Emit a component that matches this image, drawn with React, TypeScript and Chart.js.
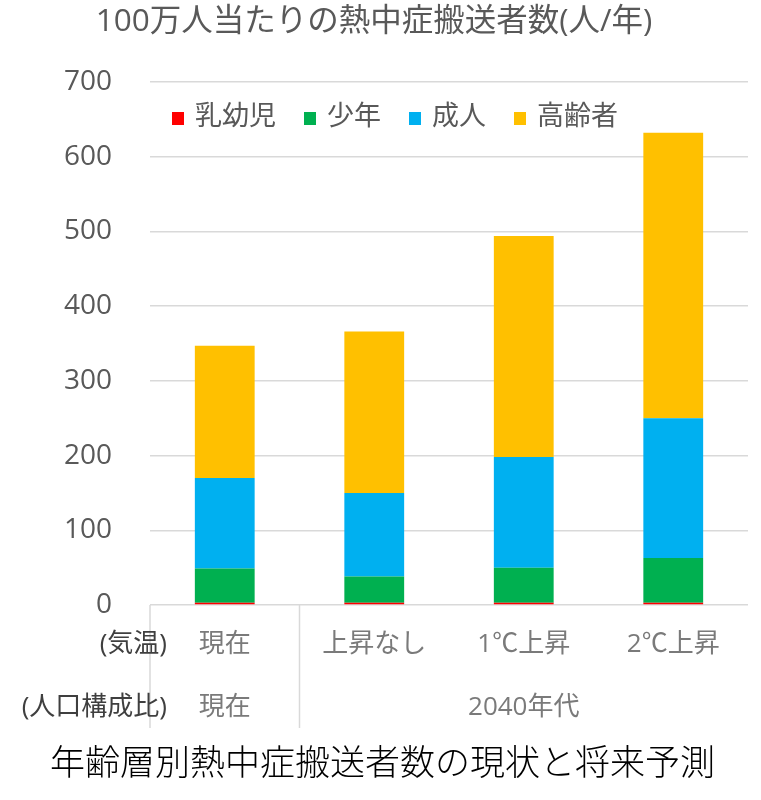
import { useEffect, useRef } from "react";
import { Chart, registerables } from "chart.js";

Chart.register(...registerables);

const titleText = "100万人当たりの熱中症搬送者数(人/年)";
const captionText = "年齢層別熱中症搬送者数の現状と将来予測";
const categories = ["現在", "上昇なし", "1℃上昇", "2℃上昇"];
const rowHeaders = ["(気温)", "(人口構成比)"];
const populationGroups = ["現在", "2040年代"];
const populationSpans = [1, 3];
const seriesNames = ["乳幼児", "少年", "成人", "高齢者"];
const seriesColors = ["#FF0000", "#00B050", "#00B0F0", "#FFC000"];
const infant = [3, 3, 3, 3];
const youth = [46, 35, 47, 60];
const adult = [121, 112, 148, 187];
const elderly = [177, 216, 296, 382];
const yMax = 700;
const yStep = 100;

const FONT = '"Open Sans", "Noto Sans CJK JP", sans-serif';
const CJK = '"Noto Sans CJK JP", sans-serif';

const insideLegendPlugin = {
  id: "insideLegend",
  afterDraw(chart: any) {
    const { ctx, chartArea } = chart;
    ctx.save();
    ctx.font = `27px ${FONT}`;
    ctx.textBaseline = "middle";
    ctx.textAlign = "left";
    let x = chartArea.left + 22;
    const cy = chartArea.top + 35;
    chart.data.datasets.forEach((ds: any) => {
      ctx.fillStyle = ds.backgroundColor;
      ctx.fillRect(x, cy - 5, 12, 13);
      ctx.fillStyle = "#595959";
      ctx.fillText(ds.label, x + 23, cy);
      x += 23 + ctx.measureText(ds.label).width + 28;
    });
    ctx.restore();
  },
};

const multiLevelPlugin = {
  id: "multiLevelLabels",
  afterDraw(chart: any) {
    const { ctx, chartArea } = chart;
    const x = chart.scales.x;
    const bottom = chartArea.bottom;
    ctx.save();
    ctx.strokeStyle = "#d9d9d9";
    ctx.lineWidth = 1.5;
    const bounds: number[] = [chartArea.left];
    let idx = 0;
    populationSpans.forEach((span) => {
      idx += span;
      if (idx < categories.length) {
        bounds.push((x.getPixelForValue(idx - 1) + x.getPixelForValue(idx)) / 2);
      }
    });
    bounds.forEach((bx) => {
      ctx.beginPath();
      ctx.moveTo(bx, bottom);
      ctx.lineTo(bx, bottom + 123);
      ctx.stroke();
    });
    const row1 = bottom + 40;
    const row2 = bottom + 103;
    ctx.textBaseline = "middle";
    ctx.font = `26px ${FONT}`;
    ctx.fillStyle = "#3f3f3f";
    ctx.textAlign = "right";
    ctx.fillText(rowHeaders[0], chartArea.left + 17, row1);
    ctx.fillText(rowHeaders[1], chartArea.left + 17, row2);
    ctx.font = `26px ${FONT}`;
    ctx.fillStyle = "#7a7a7a";
    ctx.textAlign = "center";
    categories.forEach((c, i) => {
      ctx.fillText(c, x.getPixelForValue(i), row1);
    });
    let start = 0;
    populationGroups.forEach((g, gi) => {
      const end = start + populationSpans[gi] - 1;
      const cx = (x.getPixelForValue(start) + x.getPixelForValue(end)) / 2;
      ctx.fillText(g, cx, row2);
      start = end + 1;
    });
    ctx.font = `300 35px ${CJK}`;
    ctx.fillStyle = "#000000";
    ctx.fillText(captionText, chart.width / 2 + 2, 762);
    ctx.restore();
  },
};

export default function App() {
  const ref = useRef<HTMLCanvasElement | null>(null);
  useEffect(() => {
    if (!ref.current) return;
    const data = [infant, youth, adult, elderly];
    const chart = new Chart(ref.current, {
      type: "bar",
      data: {
        labels: categories,
        datasets: seriesNames.map((name, i) => ({
          label: name,
          data: data[i],
          backgroundColor: seriesColors[i],
          borderWidth: 0,
          barPercentage: 0.4,
          categoryPercentage: 1,
        })),
      },
      options: {
        responsive: false,
        animation: false,
        devicePixelRatio: 1,
        layout: { padding: { top: 0, left: 0, right: 13, bottom: 195 } },
        plugins: {
          title: {
            display: true,
            text: titleText,
            color: "#595959",
            font: { family: FONT, size: 31.5, weight: "normal" },
            padding: { top: 3, bottom: 41.2 },
          },
          legend: { display: false },
          tooltip: { enabled: false },
        },
        scales: {
          x: {
            display: false,
            stacked: true,
          },
          y: {
            stacked: true,
            min: 0,
            max: yMax,
            afterFit: (s: any) => {
              s.width = 150;
            },
            border: { display: false },
            grid: { color: "#d9d9d9", lineWidth: 1.5, drawTicks: false },
            ticks: {
              stepSize: yStep,
              padding: 38,
              color: "#595959",
              font: { family: FONT, size: 28 },
            },
          },
        },
      },
      plugins: [insideLegendPlugin, multiLevelPlugin],
    });
    return () => chart.destroy();
  }, []);
  return (
    <div style={{ position: "fixed", left: 0, top: 0, width: 761, height: 800, background: "#fff" }}>
      <canvas ref={ref} width={761} height={800} style={{ width: 761, height: 800 }} />
    </div>
  );
}
